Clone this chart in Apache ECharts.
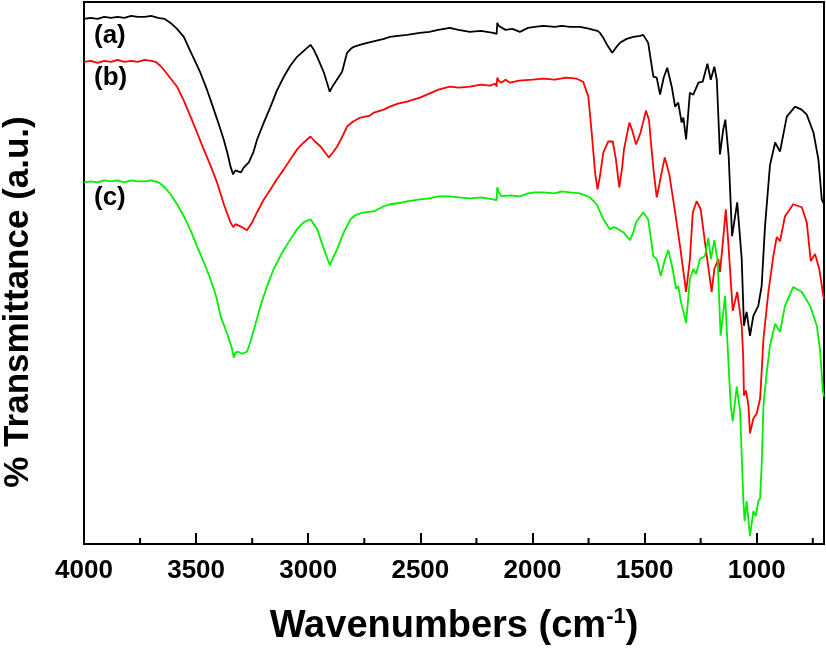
<!DOCTYPE html>
<html>
<head>
<meta charset="utf-8">
<script src="https://cdn.jsdelivr.net/npm/echarts@6/dist/echarts.min.js"></script>
<style>html,body{margin:0;padding:0;background:#fff}#chart{width:826px;height:651px}</style>
</head>
<body>
<div id="chart"></div>
<script>
// Wavenumber tick labels (cm-1)
const majorTicks = [1000, 1500, 2000, 2500, 3000, 3500, 4000];
const minorTicks = [750, 1250, 1750, 2250, 2750, 3250, 3750];
const seriesNames = ['(a)', '(b)', '(c)'];

// Curve (a) - black
const wnA = [4000,3970,3940,3910,3880,3850,3820,3790,3760,3730,3700,3670,3640,3614,3585,3555,3520,3481,3450,3421,3400,3377,3360,3347,3335,3325,3317,3300,3287,3265,3245,3228,3200,3168,3140,3109,3080,3050,3020,2990,2975,2960,2930,2904,2890,2878,2849,2827,2810,2797,2770,2737,2700,2663,2636,2600,2560,2502,2460,2420,2368,2330,2279,2230,2175,2160,2157,2150,2145,2120,2090,2056,2020,1990,1952,1900,1870,1833,1788,1744,1729,1710,1699,1684,1665,1644,1625,1610,1580,1550,1520,1506,1484,1461,1446,1431,1415,1399,1379,1364,1350,1335,1327,1315,1298,1283,1260,1241,1220,1205,1189,1178,1164,1150,1140,1125,1110,1087,1067,1057,1050,1045,1038,1030,1015,993,978,963,941,918,896,866,829,800,777,747,725,710,700];
const tA = [527,528,527,529,528,529,528,530,529,529,530,528,527,523,517,509,492,473,455,436,422,406,392,379,371,375,375,373,378,383,393,406,422,439,455,469,480,489,495,501,496,489,473,454,460,464,474,493,497,499,501,503,505,507,509,510,511,513,514,516,518,516,514,515,513,512,523,520,518,516,517,514,518,519,520,519,520,519,519,517,516,515,513,508,500,493,499,503,507,509,510,511,503,469,468,451,468,478,459,439,443,423,428,406,453,451,463,464,482,466,479,466,391,415,426,389,309,343,286,219,228,233,222,209,229,239,259,319,380,403,394,429,439,436,431,413,386,346,341];

// Curve (b) - red
const wnB = [4000,3970,3940,3910,3880,3850,3820,3790,3760,3730,3700,3681,3660,3644,3585,3555,3525,3496,3466,3436,3407,3375,3347,3335,3325,3317,3295,3273,3250,3228,3200,3168,3140,3109,3080,3050,3020,2990,2970,2945,2925,2908,2890,2871,2850,2827,2800,2767,2725,2707,2663,2636,2600,2560,2502,2460,2420,2368,2330,2279,2230,2190,2165,2160,2157,2150,2140,2120,2100,2060,1999,1952,1900,1850,1803,1774,1751,1736,1721,1710,1700,1684,1662,1642,1628,1613,1600,1592,1568,1555,1538,1518,1494,1480,1473,1460,1446,1435,1424,1410,1390,1364,1342,1325,1315,1298,1285,1268,1250,1231,1201,1189,1171,1164,1150,1138,1127,1107,1087,1067,1060,1057,1048,1037,1030,1015,1000,985,978,970,948,926,911,896,874,837,799,777,759,740,721,703,700];
const tB = [484,485,483,485,484,486,484,485,484,486,485,484,480,476,459,445,429,413,396,380,363,340,323,318,321,320,318,315,323,333,345,356,366,376,386,396,403,409,404,399,393,388,393,399,408,419,424,428,430,433,436,439,442,444,448,452,456,459,458,459,461,460,462,459,468,465,463,466,463,465,466,467,466,468,467,464,449,413,373,356,368,393,404,404,386,358,378,396,423,415,401,413,435,425,406,375,348,360,373,388,371,333,299,270,253,286,333,344,336,303,253,276,286,273,305,336,303,234,253,219,186,149,154,139,111,126,131,146,173,206,253,289,308,304,329,341,338,323,284,291,276,249,246];

// Curve (c) - green
const wnC = [4000,3970,3940,3910,3880,3850,3820,3790,3760,3730,3700,3667,3640,3614,3585,3555,3525,3496,3466,3436,3410,3391,3370,3354,3340,3332,3325,3314,3295,3273,3258,3235,3213,3185,3154,3120,3079,3050,3020,2990,2960,2930,2904,2890,2871,2841,2811,2790,2767,2707,2663,2636,2600,2560,2502,2460,2420,2368,2330,2279,2230,2175,2160,2157,2150,2138,2100,2056,2020,1990,1952,1900,1870,1833,1788,1744,1714,1684,1655,1640,1625,1595,1565,1550,1538,1506,1484,1461,1446,1428,1409,1394,1375,1360,1350,1338,1331,1315,1298,1283,1271,1253,1231,1216,1204,1189,1174,1161,1141,1127,1116,1107,1089,1074,1067,1060,1054,1045,1030,1015,1004,993,985,978,970,955,941,918,896,874,837,799,762,732,717,705,700];
const tC = [363,364,363,365,364,365,363,365,364,364,365,363,358,351,341,329,315,299,283,266,248,229,216,206,196,187,192,193,191,193,203,221,239,258,276,291,306,316,323,326,316,296,280,287,296,313,326,330,332,334,339,341,342,344,346,347,349,349,348,347,348,346,345,358,353,349,350,349,352,353,353,352,354,353,352,348,341,326,316,318,317,313,305,313,323,333,326,289,286,269,286,295,276,256,259,243,244,222,266,276,271,286,289,307,286,305,283,209,249,186,139,123,158,133,89,46,23,43,8,33,28,43,46,79,139,173,199,221,213,239,258,253,239,219,193,153,148];

const FONT = '"Liberation Sans", Arial, Helvetica, sans-serif';
const pair = (xs, ys) => xs.map((x, i) => [x, ys[i]]);

const chart = echarts.init(document.getElementById('chart'), null, {renderer: 'canvas'});
const labelGraphics = [
  {type: 'text', left: 94, top: 23, style: {text: seriesNames[0], font: 'bold 26px ' + FONT, fill: '#000'}},
  {type: 'text', left: 94, top: 65, style: {text: seriesNames[1], font: 'bold 26px ' + FONT, fill: '#000'}},
  {type: 'text', left: 94, top: 185, style: {text: seriesNames[2], font: 'bold 26px ' + FONT, fill: '#000'}},
  {type: 'text', x: 18, y: 302, rotation: Math.PI / 2,
   style: {text: '% Transmittance (a.u.)', font: 'bold 35px ' + FONT, fill: '#000', align: 'center', verticalAlign: 'middle', x: 0, y: 0}}
];
chart.setOption({
  animation: false,
  backgroundColor: '#fff',
  grid: {left: 84, right: 2, top: 2, bottom: 105, show: true, borderColor: '#000', borderWidth: 2},
  xAxis: {
    type: 'value', min: 700, max: 4000, inverse: true,
    splitLine: {show: false},
    axisLine: {show: true, lineStyle: {color: '#000', width: 2}},
    axisTick: {show: true, inside: true, length: 11, customValues: majorTicks, lineStyle: {color: '#000', width: 2}},
    axisLabel: {show: true, customValues: majorTicks, margin: 14, color: '#000', fontSize: 26,
                fontWeight: 'bold', fontFamily: FONT, formatter: v => String(v)},
    name: '{a|Wavenumbers (cm}{b|-1}{a|)}',
    nameLocation: 'middle',
    nameGap: 62,
    nameTextStyle: {
      rich: {
        a: {fontSize: 38, fontWeight: 'bold', fontFamily: FONT, color: '#000', lineHeight: 42},
        b: {fontSize: 22, fontWeight: 'bold', fontFamily: FONT, color: '#000', verticalAlign: 'top', lineHeight: 22}
      }
    }
  },
  yAxis: {
    type: 'value', min: 0, max: 544,
    axisLine: {show: true, lineStyle: {color: '#000', width: 2}},
    axisTick: {show: false}, axisLabel: {show: false}, splitLine: {show: false}
  },
  series: [
    {name: seriesNames[0], type: 'line', data: pair(wnA, tA), showSymbol: false, lineStyle: {color: '#000000', width: 1.8}, itemStyle: {color: '#000'}},
    {name: seriesNames[1], type: 'line', data: pair(wnB, tB), showSymbol: false, lineStyle: {color: '#ff0000', width: 1.8}, itemStyle: {color: '#f00'}},
    {name: seriesNames[2], type: 'line', data: pair(wnC, tC), showSymbol: false, lineStyle: {color: '#00ee00', width: 1.8}, itemStyle: {color: '#0e0'}}
  ],
  graphic: labelGraphics
});

// short minor ticks (inward), positioned with the chart's own x scale
const minorLines = minorTicks.map(v => {
  const p = chart.convertToPixel({xAxisIndex: 0, yAxisIndex: 0}, [v, 0]);
  return {type: 'line', z: 100, silent: true,
          shape: {x1: p[0], y1: p[1], x2: p[0], y2: p[1] - 6},
          style: {stroke: '#000', lineWidth: 2}};
});
chart.setOption({graphic: labelGraphics.concat(minorLines)}, {replaceMerge: ['graphic']});
</script>
</body>
</html>
